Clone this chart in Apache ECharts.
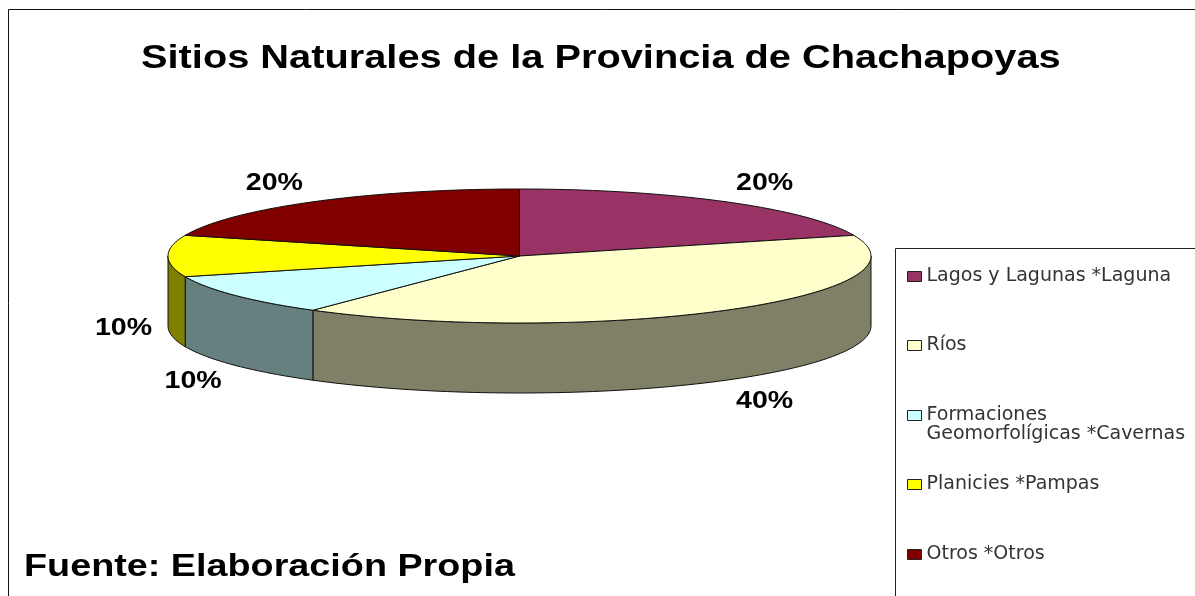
<!DOCTYPE html>
<html><head><meta charset="utf-8">
<style>html,body{margin:0;padding:0;background:#fff;overflow:hidden}#c{width:1195px;height:596px}</style>
<script src="https://cdn.jsdelivr.net/npm/echarts@6/dist/echarts.min.js"></script>
</head><body><div id="c"></div>
<script>
const titleText = 'Sitios Naturales de la Provincia de Chachapoyas';
const sourceText = 'Fuente: Elaboración Propia';
const categories = ['Lagos y Lagunas *Laguna','Ríos','Formaciones\nGeomorfolígicas *Cavernas','Planicies *Pampas','Otros *Otros'];
const values = [20,40,10,10,20];
const topColors = ['#993366','#FFFFCC','#CCFFFF','#FFFF00','#800000'];
const wallColors = ['#663344','#808066','#668080','#808000','#550000'];
const labelShiftX = [0,0,11,21,0];
const legendTops = [267,336,387,475,545];

const CX=519.5, CY=256, RX=351.5, RY=67, DEPTH=70, LRX=417, LRY=91;
const total = values.reduce((a,b)=>a+b,0);
const rim = (deg,dy=0)=>{const t=deg*Math.PI/180;return [CX+RX*Math.sin(t),CY-RY*Math.cos(t)+dy];};
const arc = (a,b,dy=0)=>{const n=Math.max(2,Math.ceil(Math.abs(b-a)/1.5));const p=[];for(let i=0;i<=n;i++)p.push(rim(a+(b-a)*i/n,dy));return p;};

function renderSlice(idx){
  return function(params,api){
    const v=api.value(0);
    let start=0;for(let i=0;i<idx;i++)start+=values[i]/total*360;
    const end=start+v/total*360, mid=(start+end)/2;
    const children=[];
    const a=Math.max(start,90), b=Math.min(end,270);
    const line={stroke:'#111',lineWidth:1};
    if(a<b){
      const pts=arc(a,b).concat(arc(b,a,DEPTH));
      children.push({type:'polygon',shape:{points:pts},style:Object.assign({fill:wallColors[idx]},line)});
    }
    children.push({type:'polygon',shape:{points:[[CX,CY]].concat(arc(start,end))},style:Object.assign({fill:topColors[idx]},line)});
    const t=mid*Math.PI/180, front=Math.cos(t)<=0.01;
    children.push({type:'text',x:CX+LRX*Math.sin(t)+labelShiftX[idx],y:CY-LRY*Math.cos(t)+(front?DEPTH+2:1),scaleX:1.19,
      style:{text:v+'%',fontFamily:'Liberation Sans',fontWeight:'bold',fontSize:24,fill:'#000',align:'center',verticalAlign:'middle'}});
    return {type:'group',children};
  };
}

const chart=echarts.init(document.getElementById('c'),null,{renderer:'canvas'});
chart.setOption({
  animation:false,
  backgroundColor:'#fff',
  graphic:[
    {type:'rect',z:-10,shape:{x:8.5,y:9.5,width:1300,height:700},style:{fill:'#fff',stroke:'#111',lineWidth:1}},
    {type:'rect',z:-9,shape:{x:895.5,y:248.5,width:400,height:500},style:{fill:'#fff',stroke:'#222',lineWidth:1}},
    {type:'text',z:5,x:141,y:59,scaleX:1.17,style:{text:titleText,fontFamily:'Liberation Sans',fontWeight:'bold',fontSize:34,fill:'#000',align:'left',verticalAlign:'middle'}},
    {type:'text',z:5,x:24,y:567,scaleX:1.218,style:{text:sourceText,fontFamily:'Liberation Sans',fontWeight:'bold',fontSize:31,fill:'#000',align:'left',verticalAlign:'middle'}}
  ],
  legend:categories.map((c,i)=>({
    data:[c],left:907,top:legendTops[i],orient:'vertical',padding:0,selectedMode:false,
    itemWidth:14,itemHeight:10,itemGap:0,icon:'rect',
    itemStyle:{borderColor:'#222',borderWidth:1},
    formatter:n=>n.includes('\n')?'\n'+n:n,
    textStyle:{fontFamily:'DejaVu Sans',fontSize:19,color:'#333',lineHeight:19}
  })),
  series:categories.map((c,i)=>({
    type:'custom',name:c,coordinateSystem:'none',silent:true,clip:false,
    itemStyle:{color:topColors[i]},
    data:[[values[i]]],renderItem:renderSlice(i)
  }))
});
</script></body></html>
